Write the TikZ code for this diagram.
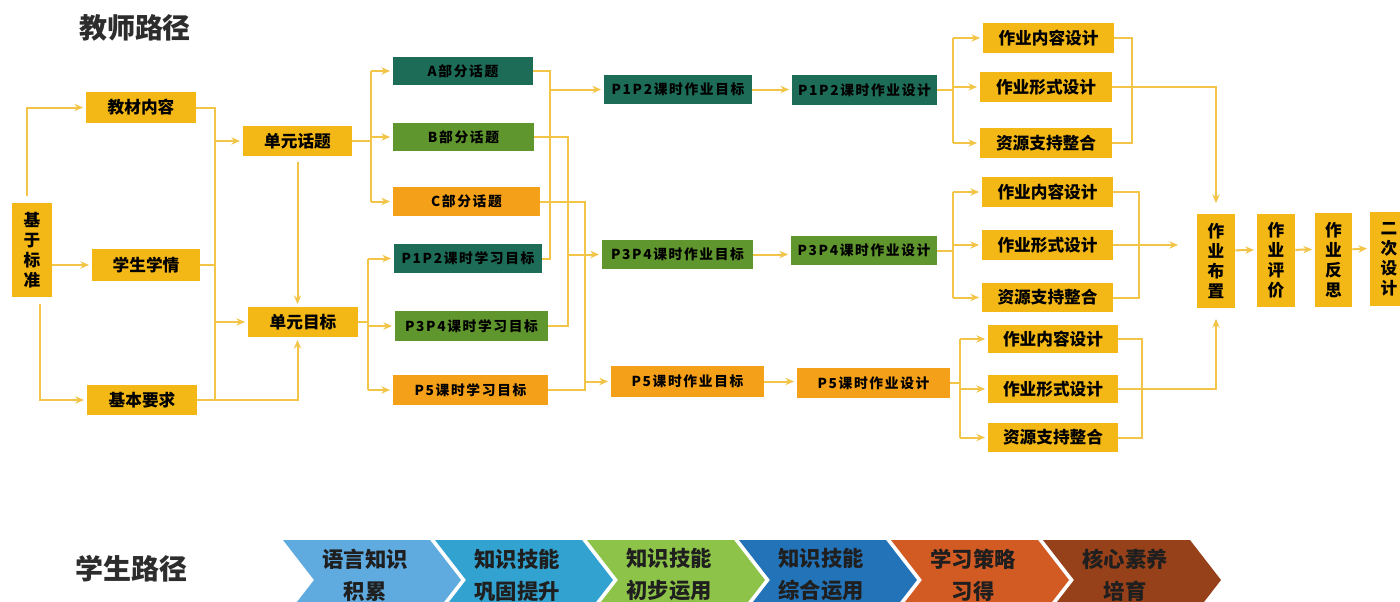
\documentclass[tikz,border=0pt]{standalone}
\usepackage{fontspec}
\setmainfont{Noto Sans CJK SC}
\newfontfamily\spfont{Noto Sans CJK SC}[LetterSpace=12]
\usetikzlibrary{arrows.meta}
\definecolor{cyel}{RGB}{244,184,22}
\definecolor{cteal}{RGB}{28,108,88}
\definecolor{cgreen}{RGB}{96,150,46}
\definecolor{corange}{RGB}{245,160,25}
\definecolor{cline}{RGB}{242,196,72}
\definecolor{ctitle}{RGB}{45,45,45}
\definecolor{ch1}{RGB}{95,170,222}
\definecolor{ch2}{RGB}{50,163,208}
\definecolor{ch3}{RGB}{140,195,72}
\definecolor{ch4}{RGB}{35,115,185}
\definecolor{ch5}{RGB}{210,90,35}
\definecolor{ch6}{RGB}{150,65,25}
\newcommand\pbox[7]{\node[#1, minimum width={(#4-#2)*0.75pt}, minimum height={(#5-#3)*0.75pt}] (#6) at ({(#2+#4)/2},{(#3+#5)/2}) {#7};}
\newcommand\chev[4]{%
  \fill[#2] (#1,540) -- ++(147,0) -- ++(31,40) -- ++(-31,40) -- ++(-147,0) -- ++(31,-40) -- cycle;
  \node[chevtxt] (#3) at ({#1+82},575) {#4};}
\tikzset{
  bx/.style={inner sep=0pt, text=black},
  ybox/.style={bx, fill=cyel, font=\fontsize{12.5}{15}\selectfont\bfseries},
  vbox/.style={bx, fill=cyel, align=center, font=\fontsize{12.5}{15}\selectfont\bfseries},
  tbox/.style={bx, fill=cteal, font=\fontsize{10.3}{12}\spfont\bfseries},
  gbox/.style={bx, fill=cgreen, font=\fontsize{10.3}{12}\spfont\bfseries},
  obox/.style={bx, fill=corange, font=\fontsize{10.3}{12}\spfont\bfseries},
  ln/.style={draw=cline, line width=1.5pt},
  arr/.style={ln, -{Stealth[length=6.5pt,width=5.5pt]}, shorten >=2pt},
  title/.style={inner sep=0pt, text=ctitle, font=\fontsize{21}{24}\selectfont\bfseries},
  chevtxt/.style={inner sep=0pt, align=center, text=black!88, font=\fontsize{16}{24}\selectfont\bfseries},
}
\begin{document}
\begin{tikzpicture}[x=0.75pt,y=-0.75pt]
\useasboundingbox (0,0) rectangle (1400,601);
\fill[white] (0,0) rectangle (1400,601);

\node[title] (t1) at (135,28) {教师路径};
\node[title] (t2) at (131,569) {学生路径};

% left column
\pbox{vbox}{12}{203}{52}{297}{jz}{基\\于\\标\\准}
\pbox{ybox}{86}{92}{196}{123}{jc}{教材内容}
\pbox{ybox}{92}{249}{200}{281}{xs}{学生学情}
\pbox{ybox}{87}{385}{197}{415}{jb}{基本要求}
\pbox{ybox}{243}{126}{352}{156}{dt}{单元话题}
\pbox{ybox}{248}{307}{358}{337}{dm}{单元目标}

% topics and lesson goals
\pbox{tbox}{393}{57}{533}{85}{A}{A部分话题}
\pbox{gbox}{393}{123}{534}{151}{B}{B部分话题}
\pbox{obox}{393}{187}{540}{216}{C}{C部分话题}
\pbox{tbox}{394}{244}{542}{273}{L1}{P1P2课时学习目标}
\pbox{gbox}{395}{311}{548}{341}{L2}{P3P4课时学习目标}
\pbox{obox}{393}{375}{548}{405}{L3}{P5课时学习目标}

% homework goals / design
\pbox{tbox}{604}{75}{752}{104}{G1}{P1P2课时作业目标}
\pbox{tbox}{792}{75}{937}{105}{D1}{P1P2课时作业设计}
\pbox{gbox}{602}{240}{753}{269}{G2}{P3P4课时作业目标}
\pbox{gbox}{791}{236}{937}{265}{D2}{P3P4课时作业设计}
\pbox{obox}{611}{366}{764}{397}{G3}{P5课时作业目标}
\pbox{obox}{797}{368}{950}{398}{D3}{P5课时作业设计}

% design groups
\pbox{ybox}{983}{23}{1114}{53}{N1}{作业内容设计}
\pbox{ybox}{980}{72}{1112}{102}{F1}{作业形式设计}
\pbox{ybox}{980}{128}{1112}{158}{R1}{资源支持整合}
\pbox{ybox}{982}{177}{1113}{207}{N2}{作业内容设计}
\pbox{ybox}{982}{230}{1113}{260}{F2}{作业形式设计}
\pbox{ybox}{982}{283}{1113}{312}{R2}{资源支持整合}
\pbox{ybox}{988}{325}{1118}{353}{N3}{作业内容设计}
\pbox{ybox}{988}{375}{1118}{403}{F3}{作业形式设计}
\pbox{ybox}{988}{423}{1118}{452}{R3}{资源支持整合}

% final column
\pbox{vbox}{1197}{214}{1235}{308}{B1}{作\\业\\布\\置}
\pbox{vbox}{1257}{214}{1295}{307}{B2}{作\\业\\评\\价}
\pbox{vbox}{1315}{213}{1352}{307}{B3}{作\\业\\反\\思}
\pbox{vbox}{1370}{212}{1408}{306}{B4}{二\\次\\设\\计}

% connectors: left part
\draw[arr, shorten <=5pt] ([xshift=-3.75pt]jz.north) |- (jc.west);
\draw[arr] (jz.east |- xs.west) -- (xs.west);
\draw[arr, shorten <=5pt] ([xshift=6pt]jz.south) |- (jb.west);
\coordinate (b1) at (215,0);
\draw[ln] (jc.east) -| (b1 |- jb.east) -- (jb.east);
\draw[ln] (xs.east) -- (b1 |- xs.east);
\draw[arr] (b1 |- dt.west) -- (dt.west);
\draw[arr] (b1 |- dm.west) -- (dm.west);
\draw[arr] (b1 |- jb.east) -| (dt.south |- dm.south);
\draw[arr, shorten <=4pt] (dt.south) -- (dt.south |- dm.north);

% topic bus
\coordinate (b2) at (371,0);
\draw[ln] (dt.east) -- (b2 |- dt.east);
\draw[ln] (b2 |- A.west) -- (b2 |- C.west);
\draw[arr] (b2 |- A.west) -- (A.west);
\draw[arr] (b2 |- B.west) -- (B.west);
\draw[arr] (b2 |- C.west) -- (C.west);
% goal bus
\coordinate (b3) at (368,0);
\draw[ln] (dm.east) -- (b3 |- dm.east);
\draw[ln] (b3 |- L1.west) -- (b3 |- L3.west);
\draw[arr] (b3 |- L1.west) -- (L1.west);
\draw[arr] (b3 |- L2.west) -- (L2.west);
\draw[arr] (b3 |- L3.west) -- (L3.west);

% merging to homework goals
\coordinate (c1) at (550,0);
\coordinate (c2) at (568,0);
\coordinate (c3) at (585,0);
\draw[ln] (A.east) -| (c1 |- L1.east) -- (L1.east);
\draw[ln] (B.east) -| (c2 |- L2.east) -- (L2.east);
\draw[ln] (C.east) -| (c3 |- L3.east) -- (L3.east);
\draw[arr] (c1 |- G1.west) -- (G1.west);
\draw[arr] (c2 |- G2.west) -- (G2.west);
\draw[arr] (c3 |- G3.west) -- (G3.west);
\draw[arr] (G1.east) -- (G1.east -| D1.west);
\draw[arr] (G2.east) -- (G2.east -| D2.west);
\draw[arr] (G3.east) -- (G3.east -| D3.west);

% group 1
\coordinate (d1) at (953,0);
\coordinate (e1) at (1132,0);
\draw[ln] (D1.east) -- (d1 |- D1.east);
\draw[ln] (d1 |- N1.west) -- (d1 |- R1.west);
\draw[arr] (d1 |- N1.west) -- (N1.west);
\draw[arr] (d1 |- F1.west) -- (F1.west);
\draw[arr] (d1 |- R1.west) -- (R1.west);
\draw[ln] (N1.east) -| (e1 |- R1.east) -- (R1.east);
\draw[arr, shorten >=8pt] (F1.east) -| (B1.north);
% group 2
\coordinate (d2) at (953,0);
\coordinate (e2) at (1139,0);
\draw[ln] (D2.east) -- (d2 |- D2.east);
\draw[ln] (d2 |- N2.west) -- (d2 |- R2.west);
\draw[arr] (d2 |- N2.west) -- (N2.west);
\draw[arr] (d2 |- F2.west) -- (F2.west);
\draw[arr] (d2 |- R2.west) -- (R2.west);
\draw[ln] (N2.east) -| (e2 |- R2.east) -- (R2.east);
\draw[arr, shorten >=14pt] (F2.east) -- (B1.west |- F2.east);
% group 3
\coordinate (d3) at (960,0);
\coordinate (e3) at (1142,0);
\draw[ln] (D3.east) -- (d3 |- D3.east);
\draw[ln] (d3 |- N3.west) -- (d3 |- R3.west);
\draw[arr] (d3 |- N3.west) -- (N3.west);
\draw[arr] (d3 |- F3.west) -- (F3.west);
\draw[arr] (d3 |- R3.west) -- (R3.west);
\draw[ln] (N3.east) -| (e3 |- R3.east) -- (R3.east);
\draw[arr, shorten >=8pt] (F3.east) -| (B1.south);

% final chain
\draw[arr] ([yshift=8pt]B1.east) -- ([yshift=8pt]B2.west);
\draw[arr] ([yshift=8pt]B2.east) -- ([yshift=8pt]B3.west);
\draw[arr] ([yshift=8pt]B3.east) -- ([yshift=8pt]B4.west);

% student path chevrons
\chev{283}{ch1}{s1}{语言知识\\积累}
\chev{435}{ch2}{s2}{知识技能\\巩固提升}
\chev{587}{ch3}{s3}{知识技能\\初步运用}
\chev{739}{ch4}{s4}{知识技能\\综合运用}
\chev{891}{ch5}{s5}{学习策略\\习得}
\chev{1043}{ch6}{s6}{核心素养\\培育}
\end{tikzpicture}
\end{document}
